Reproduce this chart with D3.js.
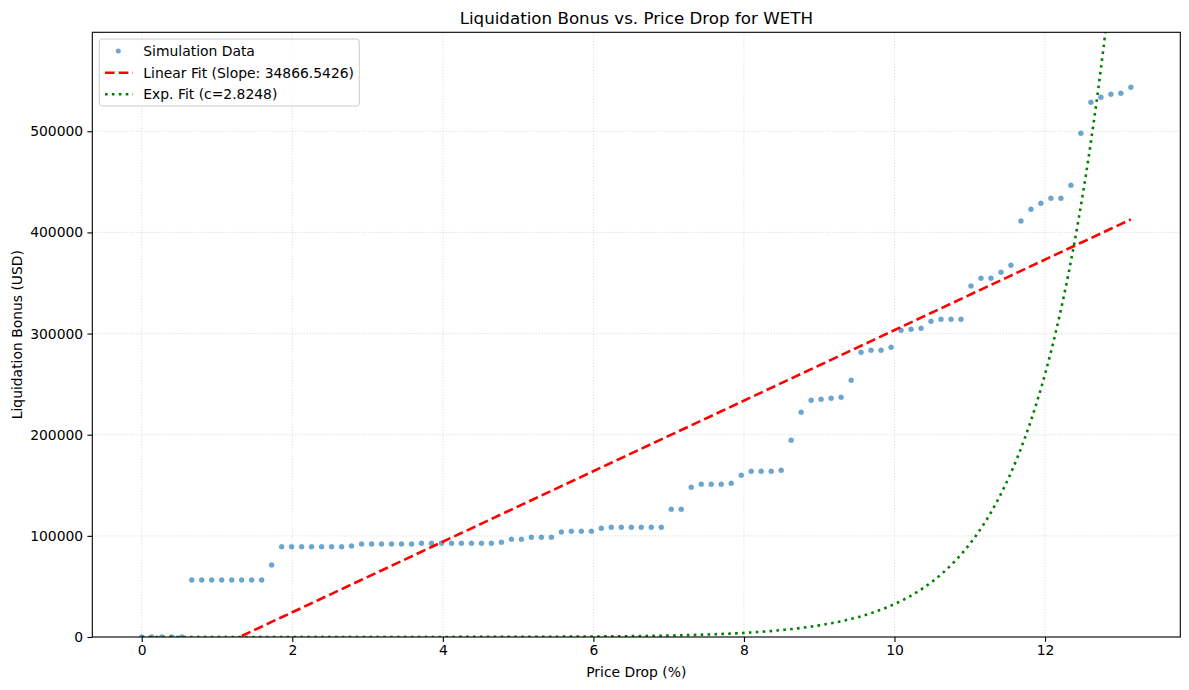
<!DOCTYPE html>
<html><head><meta charset="utf-8">
<script src="https://cdn.jsdelivr.net/npm/d3@7"></script>
<style>
body{margin:0;background:#fff;}
text{font-family:"DejaVu Sans",sans-serif;fill:#000;}
</style></head>
<body><svg id="chart" width="1189" height="690"></svg>
<script>
const priceDrop = [0,0.133,0.265,0.398,0.531,0.664,0.796,0.929,1.062,1.195,1.327,1.460,1.593,1.725,1.858,1.991,2.124,2.256,2.389,2.522,2.655,2.787,2.920,3.053,3.185,3.318,3.451,3.584,3.716,3.849,3.982,4.115,4.247,4.380,4.513,4.645,4.778,4.911,5.044,5.176,5.309,5.442,5.575,5.707,5.840,5.973,6.105,6.238,6.371,6.504,6.636,6.769,6.902,7.035,7.167,7.300,7.433,7.565,7.698,7.831,7.964,8.096,8.229,8.362,8.495,8.627,8.760,8.893,9.025,9.158,9.291,9.424,9.556,9.689,9.822,9.955,10.087,10.220,10.353,10.485,10.618,10.751,10.884,11.016,11.149,11.282,11.415,11.547,11.680,11.813,11.945,12.078,12.211,12.344,12.476,12.609,12.742,12.875,13.007,13.140];
const bonus = [0,0,0,0,0,
 56400,56400,56400,56400,56400,56400,56400,56400,
 71200,
 89300,89300,89300,89300,89300,89300,89300,
 90000,
 92000,92000,92000,92000,92000,92000,
 92600,92600,92600,92600,92600,92600,92600,92600,
 93600,96600,96600,98600,98600,98600,
 103800,104500,104500,104500,107500,
 108400,108400,108400,108400,108400,108400,
 126200,126200,148000,151000,151000,151000,152000,159900,163800,163800,163800,164800,
 194500,222200,234000,235000,236000,237000,253800,281500,283500,283500,286400,
 303200,304200,305200,312100,314100,314100,314100,347000,354700,354700,360600,367500,
 411300,422900,428800,433800,433800,446600,498000,528700,533600,536600,537600,543500];
const linSlope = 34866.5426;
const linIntercept = -45260;
const expA = 1.0;
const expB = 1.039;
const xTicks = [0,2,4,6,8,10,12];
const yTicks = [0,100000,200000,300000,400000,500000];
const legendLabels = ["Simulation Data","Linear Fit (Slope: 34866.5426)","Exp. Fit (c=2.8248)"];
const titleText = "Liquidation Bonus vs. Price Drop for WETH";

const svg = d3.select("#chart");
const L = 92.3, R = 1180.3, T = 32.3, B = 637;
const xMax = d3.max(priceDrop), xMin = d3.min(priceDrop), pad = (xMax - xMin) * 0.05;
const x = d3.scaleLinear().domain([xMin - pad, xMax + pad]).range([L, R]);
const y = d3.scaleLinear().domain([0, d3.max(bonus) * 1.1]).range([B, T]);

svg.append("defs").append("clipPath").attr("id","clip")
  .append("rect").attr("x",L).attr("y",T).attr("width",R-L).attr("height",B-T);

// grid
const grid = svg.append("g");
grid.selectAll(".gx").data(xTicks).join("line")
  .attr("x1",d=>x(d)).attr("x2",d=>x(d)).attr("y1",T).attr("y2",B)
  .attr("stroke","#b0b0b0").attr("stroke-opacity",0.6).attr("stroke-width",0.8).attr("stroke-dasharray","1.1,1.8");
grid.selectAll(".gy").data(yTicks).join("line")
  .attr("x1",L).attr("x2",R).attr("y1",d=>y(d)).attr("y2",d=>y(d))
  .attr("stroke","#b0b0b0").attr("stroke-opacity",0.6).attr("stroke-width",0.8).attr("stroke-dasharray","1.1,1.8");

const plot = svg.append("g").attr("clip-path","url(#clip)");
// scatter
const pts = priceDrop.map((d,i)=>({x:d,y:bonus[i]}));
plot.selectAll("circle").data(pts).join("circle")
  .attr("cx",d=>x(d.x)).attr("cy",d=>y(d.y)).attr("r",2.5)
  .attr("fill","#1f77b4").attr("fill-opacity",0.65)
  .attr("stroke","#1f77b4").attr("stroke-opacity",0.3).attr("stroke-width",0.8);

// linear fit
const linPts = priceDrop.map(d=>({x:d,y:linSlope*d+linIntercept}));
plot.append("path").datum(linPts)
  .attr("d",d3.line().x(d=>x(d.x)).y(d=>y(d.y)))
  .attr("fill","none").attr("stroke","#ff0000").attr("stroke-width",2.6).attr("stroke-dasharray","9.6,4.2");

// exp fit
const expX = d3.range(0, 401).map(i=>xMin + (xMax - xMin) * i / 400);
const expPts = expX.map(d=>({x:d,y:expA*Math.exp(expB*d)}));
plot.append("path").datum(expPts)
  .attr("d",d3.line().x(d=>x(d.x)).y(d=>Math.max(y(d.y), T-50)))
  .attr("fill","none").attr("stroke","#008000").attr("stroke-width",2.6).attr("stroke-dasharray","2.6,4.3");

// axes frame
svg.append("rect").attr("x",L).attr("y",T).attr("width",R-L).attr("height",B-T)
  .attr("fill","none").attr("stroke","#000").attr("stroke-width",1.1);

const xAxis = svg.append("g").attr("transform",`translate(0,${B})`)
  .call(d3.axisBottom(x).tickValues(xTicks).tickSize(4.9).tickPadding(3.5).tickFormat(d3.format("d")));
const yAxis = svg.append("g").attr("transform",`translate(${L},0)`)
  .call(d3.axisLeft(y).tickValues(yTicks).tickSize(4.9).tickPadding(4.2).tickFormat(d3.format("d")));
[xAxis,yAxis].forEach(a=>{
  a.select(".domain").remove();
  a.selectAll(".tick line").attr("stroke","#000").attr("stroke-width",1.1);
  a.selectAll(".tick text").style("font-family","DejaVu Sans").style("font-size","13.9px").attr("fill","#000");
});

// labels
svg.append("text").attr("x",(L+R)/2).attr("y",24).attr("text-anchor","middle")
  .style("font-size","16.7px").text(titleText);
svg.append("text").attr("x",(L+R)/2).attr("y",677).attr("text-anchor","middle")
  .style("font-size","13.9px").text("Price Drop (%)");
svg.append("text").attr("transform",`translate(22,${(T+B)/2}) rotate(-90)`).attr("text-anchor","middle")
  .style("font-size","13.9px").text("Liquidation Bonus (USD)");

// legend
const lg = svg.append("g");
lg.append("rect").attr("x",99.3).attr("y",39).attr("width",260).attr("height",67).attr("rx",3)
  .attr("fill","#fff").attr("fill-opacity",0.8).attr("stroke","#cccccc").attr("stroke-width",1);
const rows = [51, 72.7, 94.3];
lg.append("circle").attr("cx",118.3).attr("cy",rows[0]).attr("r",2.5).attr("fill","#1f77b4").attr("fill-opacity",0.65);
lg.append("line").attr("x1",105).attr("x2",133).attr("y1",rows[1]).attr("y2",rows[1])
  .attr("stroke","#ff0000").attr("stroke-width",2.6).attr("stroke-dasharray","9.6,4.2");
lg.append("line").attr("x1",105).attr("x2",133).attr("y1",rows[2]).attr("y2",rows[2])
  .attr("stroke","#008000").attr("stroke-width",2.6).attr("stroke-dasharray","2.6,4.3");
lg.selectAll(".lt").data(legendLabels).join("text")
  .attr("x",143.3).attr("y",(d,i)=>rows[i]+5).style("font-size","13.9px").text(d=>d);
</script></body></html>
